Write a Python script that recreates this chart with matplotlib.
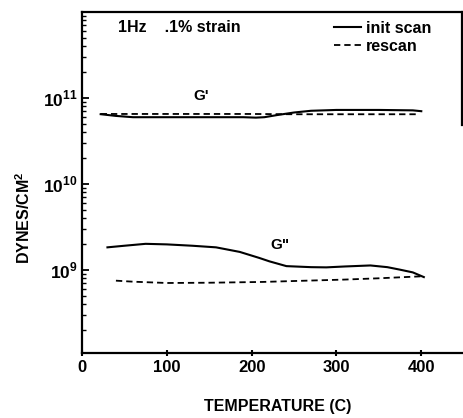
import numpy as np
import matplotlib
matplotlib.use("Agg")
import matplotlib.pyplot as plt
from matplotlib.ticker import FuncFormatter, LogLocator, NullFormatter

plt.rcParams['font.family'] = ['Liberation Sans', 'DejaVu Sans']
plt.rcParams['font.weight'] = 'bold'
plt.rcParams['mathtext.fontset'] = 'custom'
plt.rcParams['mathtext.rm'] = 'Liberation Sans:bold'
plt.rcParams['mathtext.bf'] = 'Liberation Sans:bold'

# G' (storage modulus), dynes/cm^2
gp_init_t = [22, 40, 60, 100, 150, 190, 205, 215, 230, 250, 270, 300, 350, 390, 400]
gp_init = [6.46e10, 6.17e10, 5.96e10, 5.96e10, 5.96e10, 5.96e10, 5.89e10, 5.96e10,
           6.31e10, 6.76e10, 7.08e10, 7.24e10, 7.24e10, 7.16e10, 7.0e10]
gp_re_t = [22, 100, 200, 250, 300, 350, 395]
gp_re = [6.5e10, 6.5e10, 6.5e10, 6.45e10, 6.45e10, 6.45e10, 6.45e10]

# G'' (loss modulus)
gpp_init_t = [30, 50, 75, 100, 130, 158, 186, 209, 221, 241, 270, 288, 310, 340, 360, 375, 390, 403]
gpp_init = [1.82e9, 1.9e9, 2.0e9, 1.97e9, 1.9e9, 1.82e9, 1.61e9, 1.37e9, 1.25e9, 1.1e9,
            1.07e9, 1.064e9, 1.09e9, 1.12e9, 1.07e9, 1.0e9, 9.3e8, 8.2e8]
gpp_re_t = [40, 60, 100, 150, 213, 250, 308, 350, 399]
gpp_re = [7.45e8, 7.25e8, 7.0e8, 7.05e8, 7.2e8, 7.38e8, 7.66e8, 7.94e8, 8.36e8]

fig = plt.figure(figsize=(4.64, 4.18), dpi=100)
ax = fig.add_axes([82/464, 1 - 353/418, 380/464, 341/418])

ax.plot(gp_init_t, gp_init, color='black', lw=1.5, label='init scan')
ax.plot(gp_re_t, gp_re, color='black', lw=1.3, dashes=(3.5, 2.2), label='rescan')
ax.plot(gpp_init_t, gpp_init, color='black', lw=1.5)
ax.plot(gpp_re_t, gpp_re, color='black', lw=1.3, dashes=(3.5, 2.2))

ax.set_yscale('log')
ax.set_xlim(0, 448)
ax.set_ylim(10**8.03, 1e12)
ax.set_xticks([0, 100, 200, 300, 400])
ax.set_yticks([1e9, 1e10, 1e11])
ax.yaxis.set_minor_locator(LogLocator(base=10, subs=np.arange(2, 10)))
ax.yaxis.set_minor_formatter(NullFormatter())
ax.yaxis.set_major_formatter(FuncFormatter(
    lambda v, p: r'$\mathbf{10}^{\mathbf{%d}}$' % round(np.log10(v))))

ax.tick_params(axis='x', direction='inout', length=4, width=1.5, labelsize=12, pad=3)
ax.tick_params(axis='y', which='major', direction='in', length=5, width=1.3, labelsize=12.5, pad=3)
ax.tick_params(axis='y', which='minor', direction='in', length=3, width=1.0)
ax.tick_params(top=False, right=False)

for s in ax.spines.values():
    s.set_linewidth(1.6)
ax.spines['right'].set_bounds(10**10.69, 1e12)

ax.text(0.095, 0.955, '1Hz    .1% strain', transform=ax.transAxes, fontsize=11.5,
        fontweight='bold', va='center')
ax.text(140, 1.055e11, "G'", fontsize=11, fontweight='bold', ha='center', va='center')
ax.text(233, 1.95e9, 'G"', fontsize=11, fontweight='bold', ha='center', va='center')

ax.legend(loc='upper left', bbox_to_anchor=(0.663, 0.975), frameon=False,
          handlelength=1.7, handletextpad=0.3, labelspacing=0.22, borderpad=0,
          borderaxespad=0, prop={'weight': 'bold', 'size': 11.5})

ax.set_xlabel('TEMPERATURE (C)', fontsize=11.5, fontweight='bold')
ax.xaxis.set_label_coords(0.516, -0.135)
ax.set_ylabel(r'DYNES/CM$^{\mathbf{2}}$', fontsize=11.5, fontweight='bold')
ax.yaxis.set_label_coords(-0.13, 0.396)

fig.savefig('out.png', dpi=100)
